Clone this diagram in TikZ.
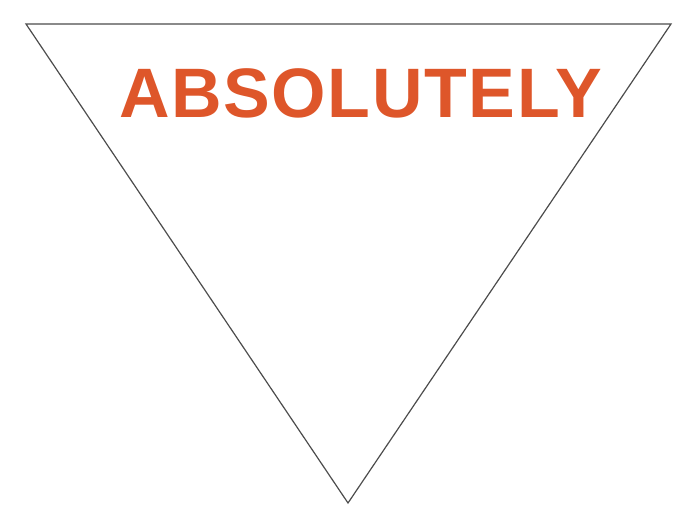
\documentclass[tikz,border=0pt]{standalone}
\usepackage{fontspec}
\setmainfont{Liberation Sans}
\definecolor{absred}{RGB}{222,86,42}
\begin{document}
\begin{tikzpicture}[x=1pt, y=-1pt]
				  \useasboundingbox (0,0) rectangle (698,530);
				  \coordinate (tl) at (26,24);
				  \coordinate (tr) at (671,24);
				  \coordinate (bot) at (348,503);
				  \draw[color=black!70, line width=1.2pt, line join=miter] (tl) -- (tr) -- (bot) -- cycle;
				  \node[anchor=base west, inner sep=0pt, text=absred, font=\fontsize{70}{70}\selectfont\bfseries\addfontfeature{LetterSpace=2.3}] (word) at (119,117) {ABSOLUTELY};
				\end{tikzpicture}
\end{document}
